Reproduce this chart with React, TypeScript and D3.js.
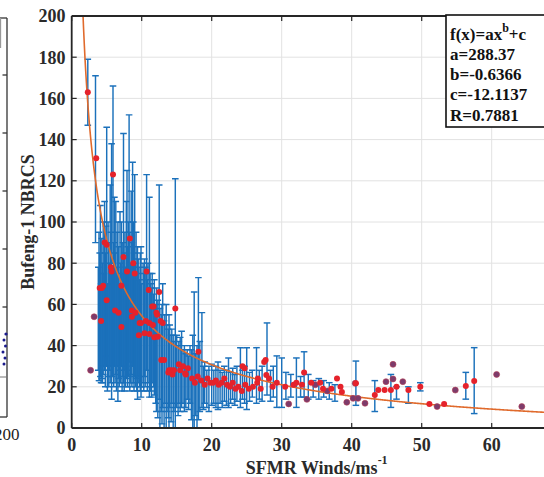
import React from "react";
import * as d3 from "d3";

// ---- data ----
const xTicks = [0, 10, 20, 30, 40, 50, 60, 70];
const xTickLabels = ["0", "10", "20", "30", "40", "50", "60", ""];
const yTicks = [0, 20, 40, 60, 80, 100, 120, 140, 160, 180, 200];

const fitA = 288.37;
const fitB = -0.6366;
const fitC = -12.1137;
const fitR = 0.7881;

// error bars: wind, lower, upper
const barWind = [2.3,3.4,3.8,3.9,4.0,4.1,4.2,4.3,4.4,4.5,4.6,4.7,4.8,4.9,5.0,5.1,5.2,5.3,5.4,5.5,5.6,5.7,5.8,5.9,6.0,6.1,6.2,6.3,6.4,6.5,6.6,6.7,6.8,6.9,7.0,7.1,7.2,7.3,7.4,7.5,7.6,7.7,7.8,7.9,8.0,8.1,8.2,8.3,8.4,8.5,8.6,8.7,8.8,8.9,9.0,9.1,9.2,9.3,9.4,9.5,9.6,9.7,9.8,9.9,10.0,10.2,10.3,10.4,10.5,10.7,10.8,10.9,11.1,11.2,11.3,11.4,11.5,11.7,11.8,12.0,12.1,12.3,12.5,12.6,12.8,12.9,13.0,13.2,13.3,13.5,13.6,13.8,13.9,14.0,14.2,14.3,14.5,14.6,14.8,15.0,15.2,15.3,15.5,15.7,15.9,16.1,16.3,16.5,16.7,16.9,17.1,17.3,17.5,17.7,17.9,18.1,18.3,18.6,18.8,19.0,19.3,19.6,20.0,20.3,20.6,20.9,21.2,21.5,21.8,22.1,22.4,22.7,23.0,23.3,23.6,24.1,24.4,24.7,25.0,25.4,25.8,26.4,26.8,27.2,27.9,28.4,28.8,29.3,30.0,30.6,31.3,32.1,32.7,33.2,33.8,34.5,35.3,36.0,36.8,37.6,40.6,43.3,45.6,46.4,48.1,49.8,56.3,57.5];
const barLow = [147,90,28,23,23,25,22,24,22,26,30,28,20,35,30,18,25,20,28,22,30,14,25,80,20,30,22,26,18,30,13,24,20,28,22,30,18,25,22,18,28,20,24,28,20,25,32,18,22,26,20,30,22,18,25,20,24,18,14,22,25,20,18,15,20,22,18,25,20,28,18,22,15,20,18,15,22,20,16,12,8,5,14,-5,8,2,10,-3,12,0,8,5,-2,10,3,12,-4,8,-6,10,6,12,8,10,12,8,10,14,9,12,4,-5,0,6,-3,4,8,10,9,12,10,8,11,12,10,9,12,10,13,11,10,12,14,11,13,10,14,12,9,13,15,12,14,13,16,13,15,10,10,14,15,10,15,15,14,15,14,15,14,13,11,8,10,14,12,18,14,7];
const barHigh = [179,171,78,95,85,108,70,92,80,100,75,110,85,98,146,70,100,90,80,118,95,138,75,166,90,112,85,110,78,95,100,88,70,105,80,100,75,90,143,85,95,78,110,125,88,100,152,95,80,115,90,129,100,85,123,80,95,75,88,82,78,72,85,88,70,80,75,82,78,123,72,80,112,75,70,68,75,65,72,60,68,62,118,58,55,60,70,52,55,60,50,48,55,50,45,48,45,42,121,45,40,42,44,47,38,40,36,38,35,40,38,45,66,36,40,73,42,56,30,32,28,30,31,28,30,32,28,27,30,28,34,27,29,26,30,39,28,30,39,27,28,39,28,30,51,28,30,35,34,27,26,34,25,37,26,23,24,23,22,21,32.5,23,26,20,20,22,27,39];

// red markers
const redWind = [2.3,3.5,5.9,4.7,5.0,8.3,7.4,8.8,5.6,5.7,7.9,9.0,10.7,4.0,4.3,4.5,7.1,11.0,12.5,5.0,6.2,6.7,11.5,14.8,4.2,8.6,9.7,9.9,7.1,12.1,13.0,10.4,9.6,11.8,12.8,13.2,13.8,14.2,14.4,15.5,15.9,16.3,16.6,18.1,17.2,17.6,18.0,18.5,19.0,19.4,19.8,8.6,9.1,11.7,12.2,12.7,10.6,11.1,11.6,11.1,12.3,13.9,14.6,15.3,16.2,20.2,20.6,21.0,21.4,21.8,22.2,22.6,23.0,23.4,23.8,24.3,24.8,25.3,25.9,26.5,27.0,27.7,27.5,28.2,28.7,29.3,24.4,24.7,26.6,27.8,30.5,31.7,32.9,32.1,33.2,34.2,35.5,35.9,37.1,37.9,38.6,38.4,40.6,43.3,43.8,44.7,45.6,46.4,48.1,49.8,51.1,53.2,56.3,57.5];
const redVal = [163,131,123,90,89,92,83,80,78,76,76,75,76,68,68,69,69,67,66,62,57,56,59,58,52,54,51,51,49,56,51,46,45,44,33,33,27,28,26,28,30,26,29,37,24,22,25,23,21,24,22,57,56,59,55,52,52,51,50,45.6,44.3,28,28,31,26.5,22,23,21,22,24,21,20,22,19,20,18,21,19,20,22,19,33,32,24,20,22,30,29,24,25.7,20,21,21,22,27,22,22,19,19,24,17.5,20,21.7,16,18.4,18.4,18.4,20,18.4,20,11.7,11.7,20.4,22.8];

// dark (purple) markers
const darkWind = [2.7,3.2,31.0,33.6,39.3,40.2,40.9,41.9,44.9,45.9,45.9,47.3,52.2,54.8,60.7,64.3,40.5,36.5,34.8];
const darkVal = [28,54,11.7,13.9,12.5,14.4,14.4,12,22.5,30.9,23.8,22.5,10.4,18.4,26,10.4,21.7,18,21];

const W = 544;
const H = 477;
const FONT = "'Liberation Serif', 'Times New Roman', serif";

export default function App() {
  const x = d3.scaleLinear().domain([0, 70]).range([71.7, 561.7]);
  const y = d3.scaleLinear().domain([0, 200]).range([428, 16]);
  const [x0, x1] = x.range();
  const [yb, yt] = y.range();

  const fitX = d3.range(1.2, 70.01, 0.1);
  const line = d3
    .line<number>()
    .x((d) => x(d))
    .y((d) => y(fitA * Math.pow(d, fitB) + fitC));

  const barColor = "#1b71bb";
  const cap = 3.3;

  return (
    <svg
      width={W}
      height={H}
      style={{ position: "absolute", left: 0, top: 0, background: "#fff" }}
      fontFamily={FONT}
    >
      <defs>
        <clipPath id="plot">
          <rect x={x0} y={yt} width={x1 - x0} height={yb - yt} />
        </clipPath>
      </defs>
      <rect width={W} height={H} fill="#fff" />

      {/* left, cut-off neighbour panel */}
      <g stroke="#333" strokeWidth={1.3} fill="none">
        <line x1={-2} x2={7} y1={18} y2={18} />
        <line x1={7} x2={7} y1={18} y2={417} />
        <line x1={-2} x2={7} y1={417} y2={417} />
        <line x1={0.5} x2={0.5} y1={18} y2={48} stroke="#999" />
        <line x1={-2} x2={7} y1={377} y2={377} stroke="#777" strokeWidth={1} />
        {[75, 133, 191, 249, 307].map((t) => (
          <line key={t} x1={2.5} x2={7} y1={t} y2={t} />
        ))}
      </g>
      <g fill="#1a1a8c">
        <circle cx={6} cy={334} r={1.6} />
        <circle cx={4} cy={340} r={1.5} />
        <circle cx={5.5} cy={346} r={1.5} />
        <circle cx={3} cy={352} r={1.5} />
        <circle cx={5} cy={358} r={1.5} />
        <circle cx={4} cy={364} r={1.5} />
      </g>
      <text x={19.5} y={440} fontSize={17} textAnchor="end" fill="#222">
        200
      </text>

      {/* grid */}
      <g stroke="#e2e2e2" strokeWidth={1}>
        {xTicks.slice(1).map((t) => (
          <line key={"gx" + t} x1={x(t)} x2={x(t)} y1={yt} y2={yb} />
        ))}
        {yTicks.slice(1, -1).map((t) => (
          <line key={"gy" + t} x1={x0} x2={x1} y1={y(t)} y2={y(t)} />
        ))}
      </g>

      {/* error bars */}
      <g clipPath="url(#plot)" stroke={barColor} strokeWidth={1.45} fill="none">
        {barWind.map((w, i) => {
          const cx = x(w);
          const lo = y(barLow[i]);
          const hi = y(barHigh[i]);
          return (
            <g key={"b" + i}>
              <line x1={cx} x2={cx} y1={lo} y2={hi} />
              <line x1={cx - cap} x2={cx + cap} y1={lo} y2={lo} />
              <line x1={cx - cap} x2={cx + cap} y1={hi} y2={hi} />
            </g>
          );
        })}
      </g>

      {/* fit curve */}
      <path
        d={line(fitX) || ""}
        clipPath="url(#plot)"
        fill="none"
        stroke="#e06a2c"
        strokeWidth={1.6}
      />

      {/* markers */}
      <g clipPath="url(#plot)">
        {darkWind.map((w, i) => (
          <circle key={"d" + i} cx={x(w)} cy={y(darkVal[i])} r={3} fill="#7d3b6b" stroke="#b43a50" strokeWidth={0.6} />
        ))}
        {redWind.map((w, i) => (
          <circle key={"r" + i} cx={x(w)} cy={y(redVal[i])} r={3} fill="#e5222b" />
        ))}
      </g>

      {/* frame */}
      <g stroke="#262626" strokeWidth={1.8} fill="none">
        <line x1={x0} x2={x1} y1={yt} y2={yt} />
        <line x1={x0} x2={x1} y1={yb} y2={yb} />
        <line x1={x0} x2={x0} y1={yt} y2={yb} />
        <line x1={x1} x2={x1} y1={yt} y2={yb} />
      </g>
      {/* ticks */}
      <g stroke="#262626" strokeWidth={1.2}>
        {xTicks.map((t) => (
          <g key={"tx" + t}>
            <line x1={x(t)} x2={x(t)} y1={yb} y2={yb - 5} />
            <line x1={x(t)} x2={x(t)} y1={yt} y2={yt + 5} />
          </g>
        ))}
        {yTicks.map((t) => (
          <line key={"ty" + t} x1={x0} x2={x0 + 5} y1={y(t)} y2={y(t)} />
        ))}
      </g>

      {/* tick labels */}
      <g fontSize={18} fontWeight="bold" fill="#2a2a2a">
        {xTicks.map((t, i) =>
          xTickLabels[i] ? (
            <text key={"lx" + t} x={x(t)} y={451} textAnchor="middle">
              {xTickLabels[i]}
            </text>
          ) : null
        )}
        {yTicks.map((t) => (
          <text key={"ly" + t} x={65.5} y={y(t)} dy="0.35em" textAnchor="end">
            {t}
          </text>
        ))}
      </g>

      {/* axis titles */}
      <text
        x={316.7}
        y={474}
        fontSize={18}
        fontWeight="bold"
        textAnchor="middle"
        fill="#2a2a2a"
      >
        SFMR Winds/ms
        <tspan fontSize={12} dy={-10}>-1</tspan>
      </text>
      <text
        transform={`translate(28,${(yt + yb) / 2}) rotate(-90)`}
        fontSize={18}
        fontWeight="bold"
        textAnchor="middle"
        dominantBaseline="central"
        fill="#2a2a2a"
      >
        Bufeng-1 NBRCS
      </text>

      {/* fit legend */}
      <rect x={446} y={15} width={130} height={112} fill="#fff" stroke="#111" strokeWidth={1.6} />
      <g fontSize={17} fontWeight="bold" fill="#111">
        <text x={450} y={39.5}>
          f(x)=ax<tspan fontSize={12} dy={-8}>b</tspan>
          <tspan dy={8}>+c</tspan>
        </text>
        <text x={450} y={60}>a={fitA.toFixed(2)}</text>
        <text x={450} y={80}>b={fitB.toFixed(4)}</text>
        <text x={450} y={100}>c={fitC.toFixed(4)}</text>
        <text x={450} y={121}>R={fitR.toFixed(4)}</text>
      </g>
    </svg>
  );
}
